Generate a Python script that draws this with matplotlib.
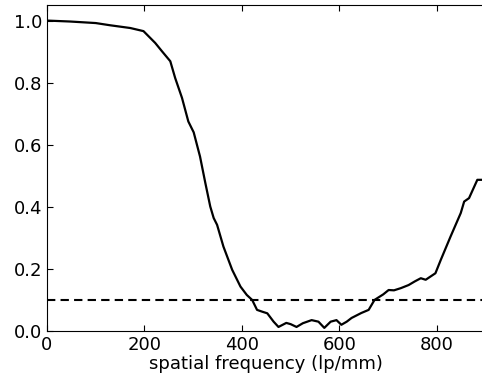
import matplotlib
matplotlib.use("Agg")
import matplotlib.pyplot as plt

# MTF curve
freq = [0, 47, 100, 129, 171, 198, 222, 236, 253, 263, 277, 290, 301, 314, 325, 335,
        342, 349, 362, 380, 397, 410, 421, 431, 442, 452, 465, 475, 491, 500, 512, 525,
        543, 557, 569, 582, 594, 604, 615, 625, 635, 645, 660, 672, 690, 701, 712, 726,
        742, 755, 767, 777, 797, 808, 828, 849, 856, 866, 883, 895]
mtf = [1.0, 0.997, 0.992, 0.985, 0.976, 0.966, 0.928, 0.901, 0.869, 0.815, 0.751,
       0.675, 0.640, 0.562, 0.476, 0.401, 0.364, 0.342, 0.272, 0.197, 0.143, 0.116,
       0.10, 0.068, 0.062, 0.057, 0.030, 0.013, 0.026, 0.022, 0.013, 0.025, 0.035,
       0.03, 0.01, 0.03, 0.035, 0.02, 0.03, 0.042, 0.05, 0.058, 0.068, 0.10, 0.118,
       0.132, 0.131, 0.138, 0.148, 0.160, 0.170, 0.165, 0.186, 0.229, 0.304, 0.38,
       0.417, 0.428, 0.487, 0.487]
threshold = 0.1

fig = plt.figure(figsize=(4.82, 3.83), dpi=100)
ax = fig.add_axes([0.0975, 0.1358, 0.91, 0.851])

ax.plot(freq, mtf, color="black", lw=1.6)
ax.axhline(threshold, color="black", lw=1.5, ls=(0, (4, 2.5)))

ax.set_xlim(0, 900)
ax.set_ylim(0, 1.05)
ax.set_xticks([0, 200, 400, 600, 800])
ax.set_yticks([0.0, 0.2, 0.4, 0.6, 0.8, 1.0])
ax.spines["right"].set_visible(False)
ax.tick_params(direction="in", top=True, right=False, labelsize=13, length=4)
ax.set_xlabel("spatial frequency (lp/mm)", fontsize=13, labelpad=1)

fig.savefig("out.png", dpi=100)
